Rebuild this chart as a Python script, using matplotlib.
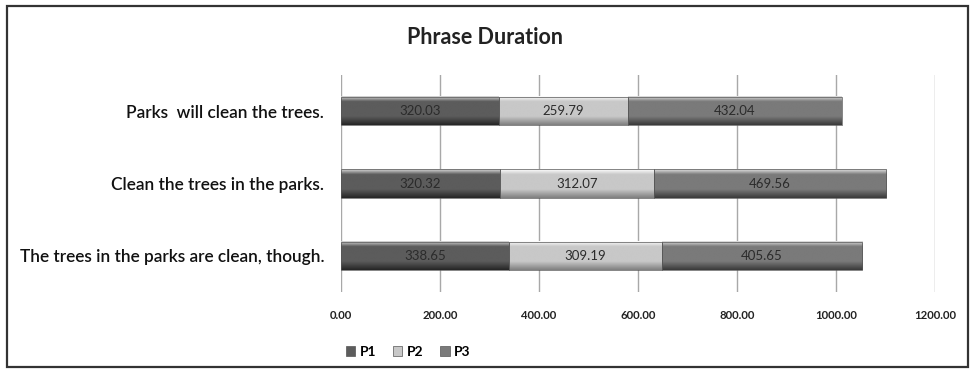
import numpy as np
import matplotlib.pyplot as plt
from matplotlib.patches import Rectangle, Patch

plt.rcParams['font.family'] = ['Lato', 'DejaVu Sans']

SENTENCES = ["The trees in the parks are clean, though.",
             "Clean the trees in the parks.",
             "Parks  will clean the trees."]
P1 = [338.65, 320.32, 320.03]
P2 = [309.19, 312.07, 259.79]
P3 = [405.65, 469.56, 432.04]
SERIES = ["P1", "P2", "P3"]
TICKS = [0, 200, 400, 600, 800, 1000, 1200]

# (top highlight, base, bottom shade) per series
SHADES = {
    "P1": ("#d8d8d8", "#5c5c5c", "#262626"),
    "P2": ("#ffffff", "#c8c8c8", "#808080"),
    "P3": ("#e0e0e0", "#7a7a7a", "#3a3a3a"),
}


def hex2rgb(h):
    h = h.lstrip("#")
    return np.array([int(h[i:i + 2], 16) / 255 for i in (0, 2, 4)])


def gradient(name, n=60):
    top, mid, bot = (hex2rgb(c) for c in SHADES[name])
    rows = []
    for v in np.linspace(0, 1, n):
        if v < 0.18:
            c = top + (mid - top) * (v / 0.18)
        elif v < 0.7:
            c = mid
        else:
            c = mid + (bot - mid) * ((v - 0.7) / 0.3)
        rows.append(c)
    return np.array(rows)[:, None, :]


fig = plt.figure(figsize=(9.76, 3.72), dpi=100)
ax = fig.add_axes([341 / 976, 1 - 292 / 372, 594 / 976, 217 / 372])

ys = np.arange(len(SENTENCES))
h = 0.39
left = np.zeros(len(SENTENCES))
for name, vals in zip(SERIES, [P1, P2, P3]):
    img = gradient(name)
    for y, l, v in zip(ys, left, vals):
        # image rows go top->bottom with origin="upper"
        ax.imshow(img, extent=(l, l + v, y - h / 2, y + h / 2), origin="upper",
                  aspect="auto", zorder=3, interpolation="bilinear")
        ax.add_patch(Rectangle((l, y - h / 2), v, h, fill=False,
                               edgecolor="#555555", lw=0.5, zorder=4))
        ax.text(l + v / 2, y, f"{v:.2f}", ha="center", va="center",
                fontsize=9.5, color="#2b2b2b", zorder=5)
    left = left + np.array(vals)

ax.set_xlim(0, 1200)
ax.set_ylim(-0.5, 2.5)
ax.set_xticks(TICKS)
ax.set_xticklabels([f"{t:.2f}" for t in TICKS], fontsize=8.2,
                   fontweight="bold", color="#222222")
ax.set_yticks(ys)
ax.set_yticklabels(SENTENCES, fontsize=12.4, fontweight="semibold", color="#111111")
ax.tick_params(axis="x", length=0, pad=13)
ax.tick_params(axis="y", length=0, pad=12)
for s in ax.spines.values():
    s.set_visible(False)
ax.grid(axis="x", color="#a8a8a8", lw=1, zorder=0)
ax.set_axisbelow(True)

fig.text(485 / 976, 1 - 38 / 372, "Phrase Duration", ha="center", va="center",
         fontsize=15.5, fontweight="bold", color="#222222")

handles = [Patch(facecolor=SHADES[n][1], edgecolor="#555555", lw=0.5) for n in SERIES]
fig.legend(handles, SERIES, loc="center", bbox_to_anchor=(408 / 976, 1 - 352 / 372),
           ncol=3, frameon=False, prop={"size": 10, "weight": "bold"},
           handlelength=0.7, handleheight=0.7, handletextpad=0.3, columnspacing=1.2)

fig.add_artist(Rectangle((7 / 976, 1 - 367 / 372), 961 / 976, 361 / 372,
                         transform=fig.transFigure, fill=False,
                         edgecolor="#333333", lw=1.6))

fig.savefig("out.png", dpi=100)
